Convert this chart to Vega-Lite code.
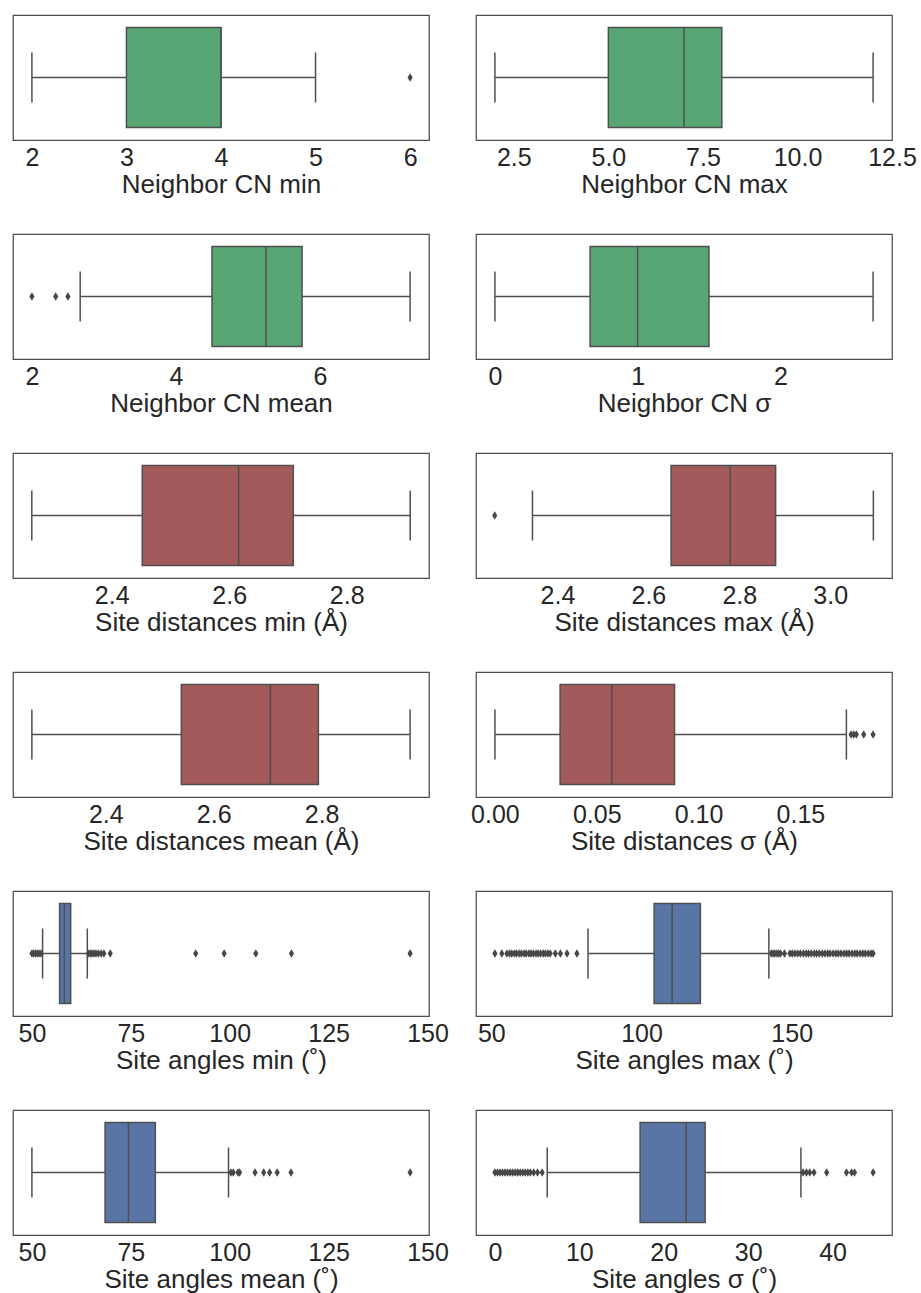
{
"$schema": "https://vega.github.io/schema/vega-lite/v6.json",
"autosize": "pad",
"padding": {"left": 12, "top": 14, "right": 0, "bottom": 0},
"background": "white",
"datasets": {
 "stats": [
  {"p": "a", "lo": 2, "q1": 3, "med": 4, "q3": 4, "hi": 5},
  {"p": "b", "lo": 2, "q1": 5, "med": 7, "q3": 8, "hi": 12},
  {"p": "c", "lo": 2.67, "q1": 4.5, "med": 5.25, "q3": 5.75, "hi": 7.25},
  {"p": "d", "lo": 0, "q1": 0.667, "med": 1.0, "q3": 1.5, "hi": 2.65},
  {"p": "e", "lo": 2.264, "q1": 2.452, "med": 2.616, "q3": 2.709, "hi": 2.908},
  {"p": "f", "lo": 2.345, "q1": 2.650, "med": 2.780, "q3": 2.880, "hi": 3.095},
  {"p": "g", "lo": 2.263, "q1": 2.540, "med": 2.705, "q3": 2.794, "hi": 2.964},
  {"p": "h", "lo": 0, "q1": 0.032, "med": 0.0574, "q3": 0.0882, "hi": 0.1726},
  {"p": "i", "lo": 52.7, "q1": 57.0, "med": 58.2, "q3": 59.8, "hi": 64.0},
  {"p": "j", "lo": 82.2, "q1": 104.2, "med": 110.2, "q3": 119.6, "hi": 142.4},
  {"p": "k", "lo": 50.0, "q1": 68.5, "med": 74.4, "q3": 81.2, "hi": 99.7},
  {"p": "l", "lo": 6.2, "q1": 17.2, "med": 22.65, "q3": 24.9, "hi": 36.25}
 ],
 "out": [
  {"p": "a", "v": 6},
  {"p": "c", "v": 2.0}, {"p": "c", "v": 2.33}, {"p": "c", "v": 2.5},
  {"p": "f", "v": 2.262},
  {"p": "h", "v": 0.1749}, {"p": "h", "v": 0.1762}, {"p": "h", "v": 0.1775}, {"p": "h", "v": 0.1811}, {"p": "h", "v": 0.1857},
  {"p": "i", "v": 50.0}, {"p": "i", "v": 50.4}, {"p": "i", "v": 50.9}, {"p": "i", "v": 51.3}, {"p": "i", "v": 51.8}, {"p": "i", "v": 52.3},
  {"p": "i", "v": 64.3}, {"p": "i", "v": 64.8}, {"p": "i", "v": 65.2}, {"p": "i", "v": 65.7}, {"p": "i", "v": 66.2}, {"p": "i", "v": 66.8}, {"p": "i", "v": 67.5}, {"p": "i", "v": 68.2}, {"p": "i", "v": 69.8},
  {"p": "i", "v": 91.4}, {"p": "i", "v": 98.6}, {"p": "i", "v": 106.6}, {"p": "i", "v": 115.6}, {"p": "i", "v": 145.6},
  {"p": "j", "v": 51.2}, {"p": "j", "v": 53.5}, {"p": "j", "v": 55.2}, {"p": "j", "v": 56.1}, {"p": "j", "v": 56.8}, {"p": "j", "v": 57.7}, {"p": "j", "v": 58.4}, {"p": "j", "v": 59.3}, {"p": "j", "v": 60.0}, {"p": "j", "v": 60.9}, {"p": "j", "v": 61.6}, {"p": "j", "v": 62.5}, {"p": "j", "v": 63.2}, {"p": "j", "v": 64.0}, {"p": "j", "v": 64.9}, {"p": "j", "v": 65.6}, {"p": "j", "v": 66.4}, {"p": "j", "v": 67.3}, {"p": "j", "v": 68.0}, {"p": "j", "v": 68.8}, {"p": "j", "v": 69.6}, {"p": "j", "v": 71.3}, {"p": "j", "v": 73.0}, {"p": "j", "v": 75.2}, {"p": "j", "v": 78.5},
  {"p": "j", "v": 143.2}, {"p": "j", "v": 143.8}, {"p": "j", "v": 144.4}, {"p": "j", "v": 145.1}, {"p": "j", "v": 145.7}, {"p": "j", "v": 146.3}, {"p": "j", "v": 147.6}, {"p": "j", "v": 149.4}, {"p": "j", "v": 150.2}, {"p": "j", "v": 151.1}, {"p": "j", "v": 152.0}, {"p": "j", "v": 152.9}, {"p": "j", "v": 153.9}, {"p": "j", "v": 154.8}, {"p": "j", "v": 155.6}, {"p": "j", "v": 156.5}, {"p": "j", "v": 157.5}, {"p": "j", "v": 158.3}, {"p": "j", "v": 159.2}, {"p": "j", "v": 160.2}, {"p": "j", "v": 161.1}, {"p": "j", "v": 162.0}, {"p": "j", "v": 162.8}, {"p": "j", "v": 163.8}, {"p": "j", "v": 164.7}, {"p": "j", "v": 165.5}, {"p": "j", "v": 166.4}, {"p": "j", "v": 167.4}, {"p": "j", "v": 168.3}, {"p": "j", "v": 169.1}, {"p": "j", "v": 170.1}, {"p": "j", "v": 171.0}, {"p": "j", "v": 171.8}, {"p": "j", "v": 172.8}, {"p": "j", "v": 173.7}, {"p": "j", "v": 174.5}, {"p": "j", "v": 175.5}, {"p": "j", "v": 176.4}, {"p": "j", "v": 177.1},
  {"p": "k", "v": 100.3}, {"p": "k", "v": 100.9}, {"p": "k", "v": 102.1}, {"p": "k", "v": 102.5}, {"p": "k", "v": 106.4}, {"p": "k", "v": 108.6}, {"p": "k", "v": 110.1}, {"p": "k", "v": 112.0}, {"p": "k", "v": 115.5}, {"p": "k", "v": 145.6},
  {"p": "l", "v": 0.0}, {"p": "l", "v": 0.3}, {"p": "l", "v": 0.6}, {"p": "l", "v": 0.9}, {"p": "l", "v": 1.2}, {"p": "l", "v": 1.5}, {"p": "l", "v": 1.8}, {"p": "l", "v": 2.1}, {"p": "l", "v": 2.4}, {"p": "l", "v": 2.7}, {"p": "l", "v": 3.0}, {"p": "l", "v": 3.3}, {"p": "l", "v": 3.6}, {"p": "l", "v": 3.9}, {"p": "l", "v": 4.2}, {"p": "l", "v": 4.6}, {"p": "l", "v": 5.05}, {"p": "l", "v": 5.6},
  {"p": "l", "v": 36.5}, {"p": "l", "v": 36.9}, {"p": "l", "v": 37.3}, {"p": "l", "v": 37.8}, {"p": "l", "v": 39.3}, {"p": "l", "v": 41.65}, {"p": "l", "v": 42.25}, {"p": "l", "v": 42.6}, {"p": "l", "v": 44.8}
 ]
},
"config": {
 "view": {"stroke": "#4d4d4d", "strokeWidth": 1.25},
 "axis": {"labelFont": "Liberation Sans", "labelFontSize": 25, "labelColor": "#262626", "titleFont": "Liberation Sans", "titleFontSize": 26, "titleFontWeight": "normal", "titleColor": "#262626", "ticks": false, "domain": false, "grid": false, "labelPadding": 5, "titlePadding": 1, "labelFlush": false, "labelOverlap": false},
 "rule": {"color": "#4f4f4f", "strokeWidth": 1.5},
 "bar": {"stroke": "#4f4f4f", "strokeWidth": 1.5},
 "point": {"shape": "M0,-1L0.62,0L0,1L-0.62,0Z", "filled": true, "color": "#474747", "size": 70, "opacity": 1}
},
"columns": 2,
"spacing": {"row": 94, "column": 47},
"bounds": "flush",
"concat": [
 {"width": 416, "height": 125, "layer": [
  {"data": {"name": "stats"}, "transform": [{"filter": "datum.p === 'a'"}], "layer": [
   {"mark": "rule", "encoding": {"x": {"field": "lo", "type": "quantitative", "scale": {"domain": [1.8, 6.2], "nice": false, "zero": false}, "axis": {"title": "Neighbor CN min", "values": [2, 3, 4, 5, 6], "format": "d"}}, "x2": {"field": "hi"}, "y": {"datum": 0, "type": "quantitative", "scale": {"domain": [-0.5, 0.5], "nice": false, "zero": false}, "axis": null}}},
   {"mark": "rule", "encoding": {"x": {"field": "lo", "type": "quantitative"}, "y": {"datum": -0.2, "type": "quantitative", "axis": null}, "y2": {"datum": 0.2}}},
   {"mark": "rule", "encoding": {"x": {"field": "hi", "type": "quantitative"}, "y": {"datum": -0.2, "type": "quantitative", "axis": null}, "y2": {"datum": 0.2}}},
   {"mark": {"type": "bar", "fill": "#58a673"}, "encoding": {"x": {"field": "q1", "type": "quantitative"}, "x2": {"field": "q3"}, "y": {"datum": -0.4, "type": "quantitative", "axis": null}, "y2": {"datum": 0.4}}},
   {"mark": "rule", "encoding": {"x": {"field": "med", "type": "quantitative"}, "y": {"datum": -0.4, "type": "quantitative", "axis": null}, "y2": {"datum": 0.4}}}
  ]},
  {"data": {"name": "out"}, "transform": [{"filter": "datum.p === 'a'"}], "mark": "point", "encoding": {"x": {"field": "v", "type": "quantitative"}, "y": {"datum": 0, "type": "quantitative", "axis": null}}}
 ]},
 {"width": 416, "height": 125, "layer": [
  {"data": {"name": "stats"}, "transform": [{"filter": "datum.p === 'b'"}], "layer": [
   {"mark": "rule", "encoding": {"x": {"field": "lo", "type": "quantitative", "scale": {"domain": [1.5, 12.5], "nice": false, "zero": false}, "axis": {"title": "Neighbor CN max", "values": [2.5, 5, 7.5, 10, 12.5], "format": ".1f"}}, "x2": {"field": "hi"}, "y": {"datum": 0, "type": "quantitative", "scale": {"domain": [-0.5, 0.5], "nice": false, "zero": false}, "axis": null}}},
   {"mark": "rule", "encoding": {"x": {"field": "lo", "type": "quantitative"}, "y": {"datum": -0.2, "type": "quantitative", "axis": null}, "y2": {"datum": 0.2}}},
   {"mark": "rule", "encoding": {"x": {"field": "hi", "type": "quantitative"}, "y": {"datum": -0.2, "type": "quantitative", "axis": null}, "y2": {"datum": 0.2}}},
   {"mark": {"type": "bar", "fill": "#58a673"}, "encoding": {"x": {"field": "q1", "type": "quantitative"}, "x2": {"field": "q3"}, "y": {"datum": -0.4, "type": "quantitative", "axis": null}, "y2": {"datum": 0.4}}},
   {"mark": "rule", "encoding": {"x": {"field": "med", "type": "quantitative"}, "y": {"datum": -0.4, "type": "quantitative", "axis": null}, "y2": {"datum": 0.4}}}
  ]},
  {"data": {"name": "out"}, "transform": [{"filter": "datum.p === 'b'"}], "mark": "point", "encoding": {"x": {"field": "v", "type": "quantitative"}, "y": {"datum": 0, "type": "quantitative", "axis": null}}}
 ]},
 {"width": 416, "height": 125, "layer": [
  {"data": {"name": "stats"}, "transform": [{"filter": "datum.p === 'c'"}], "layer": [
   {"mark": "rule", "encoding": {"x": {"field": "lo", "type": "quantitative", "scale": {"domain": [1.7375, 7.5125], "nice": false, "zero": false}, "axis": {"title": "Neighbor CN mean", "values": [2, 4, 6], "format": "d"}}, "x2": {"field": "hi"}, "y": {"datum": 0, "type": "quantitative", "scale": {"domain": [-0.5, 0.5], "nice": false, "zero": false}, "axis": null}}},
   {"mark": "rule", "encoding": {"x": {"field": "lo", "type": "quantitative"}, "y": {"datum": -0.2, "type": "quantitative", "axis": null}, "y2": {"datum": 0.2}}},
   {"mark": "rule", "encoding": {"x": {"field": "hi", "type": "quantitative"}, "y": {"datum": -0.2, "type": "quantitative", "axis": null}, "y2": {"datum": 0.2}}},
   {"mark": {"type": "bar", "fill": "#58a673"}, "encoding": {"x": {"field": "q1", "type": "quantitative"}, "x2": {"field": "q3"}, "y": {"datum": -0.4, "type": "quantitative", "axis": null}, "y2": {"datum": 0.4}}},
   {"mark": "rule", "encoding": {"x": {"field": "med", "type": "quantitative"}, "y": {"datum": -0.4, "type": "quantitative", "axis": null}, "y2": {"datum": 0.4}}}
  ]},
  {"data": {"name": "out"}, "transform": [{"filter": "datum.p === 'c'"}], "mark": "point", "encoding": {"x": {"field": "v", "type": "quantitative"}, "y": {"datum": 0, "type": "quantitative", "axis": null}}}
 ]},
 {"width": 416, "height": 125, "layer": [
  {"data": {"name": "stats"}, "transform": [{"filter": "datum.p === 'd'"}], "layer": [
   {"mark": "rule", "encoding": {"x": {"field": "lo", "type": "quantitative", "scale": {"domain": [-0.1325, 2.7825], "nice": false, "zero": false}, "axis": {"title": "Neighbor CN σ", "values": [0, 1, 2], "format": "d"}}, "x2": {"field": "hi"}, "y": {"datum": 0, "type": "quantitative", "scale": {"domain": [-0.5, 0.5], "nice": false, "zero": false}, "axis": null}}},
   {"mark": "rule", "encoding": {"x": {"field": "lo", "type": "quantitative"}, "y": {"datum": -0.2, "type": "quantitative", "axis": null}, "y2": {"datum": 0.2}}},
   {"mark": "rule", "encoding": {"x": {"field": "hi", "type": "quantitative"}, "y": {"datum": -0.2, "type": "quantitative", "axis": null}, "y2": {"datum": 0.2}}},
   {"mark": {"type": "bar", "fill": "#58a673"}, "encoding": {"x": {"field": "q1", "type": "quantitative"}, "x2": {"field": "q3"}, "y": {"datum": -0.4, "type": "quantitative", "axis": null}, "y2": {"datum": 0.4}}},
   {"mark": "rule", "encoding": {"x": {"field": "med", "type": "quantitative"}, "y": {"datum": -0.4, "type": "quantitative", "axis": null}, "y2": {"datum": 0.4}}}
  ]},
  {"data": {"name": "out"}, "transform": [{"filter": "datum.p === 'd'"}], "mark": "point", "encoding": {"x": {"field": "v", "type": "quantitative"}, "y": {"datum": 0, "type": "quantitative", "axis": null}}}
 ]},
 {"width": 416, "height": 125, "layer": [
  {"data": {"name": "stats"}, "transform": [{"filter": "datum.p === 'e'"}], "layer": [
   {"mark": "rule", "encoding": {"x": {"field": "lo", "type": "quantitative", "scale": {"domain": [2.232, 2.940], "nice": false, "zero": false}, "axis": {"title": "Site distances min (Å)", "values": [2.4, 2.6, 2.8], "format": ".1f"}}, "x2": {"field": "hi"}, "y": {"datum": 0, "type": "quantitative", "scale": {"domain": [-0.5, 0.5], "nice": false, "zero": false}, "axis": null}}},
   {"mark": "rule", "encoding": {"x": {"field": "lo", "type": "quantitative"}, "y": {"datum": -0.2, "type": "quantitative", "axis": null}, "y2": {"datum": 0.2}}},
   {"mark": "rule", "encoding": {"x": {"field": "hi", "type": "quantitative"}, "y": {"datum": -0.2, "type": "quantitative", "axis": null}, "y2": {"datum": 0.2}}},
   {"mark": {"type": "bar", "fill": "#a35a5a"}, "encoding": {"x": {"field": "q1", "type": "quantitative"}, "x2": {"field": "q3"}, "y": {"datum": -0.4, "type": "quantitative", "axis": null}, "y2": {"datum": 0.4}}},
   {"mark": "rule", "encoding": {"x": {"field": "med", "type": "quantitative"}, "y": {"datum": -0.4, "type": "quantitative", "axis": null}, "y2": {"datum": 0.4}}}
  ]},
  {"data": {"name": "out"}, "transform": [{"filter": "datum.p === 'e'"}], "mark": "point", "encoding": {"x": {"field": "v", "type": "quantitative"}, "y": {"datum": 0, "type": "quantitative", "axis": null}}}
 ]},
 {"width": 416, "height": 125, "layer": [
  {"data": {"name": "stats"}, "transform": [{"filter": "datum.p === 'f'"}], "layer": [
   {"mark": "rule", "encoding": {"x": {"field": "lo", "type": "quantitative", "scale": {"domain": [2.2208, 3.136], "nice": false, "zero": false}, "axis": {"title": "Site distances max (Å)", "values": [2.4, 2.6, 2.8, 3.0], "format": ".1f"}}, "x2": {"field": "hi"}, "y": {"datum": 0, "type": "quantitative", "scale": {"domain": [-0.5, 0.5], "nice": false, "zero": false}, "axis": null}}},
   {"mark": "rule", "encoding": {"x": {"field": "lo", "type": "quantitative"}, "y": {"datum": -0.2, "type": "quantitative", "axis": null}, "y2": {"datum": 0.2}}},
   {"mark": "rule", "encoding": {"x": {"field": "hi", "type": "quantitative"}, "y": {"datum": -0.2, "type": "quantitative", "axis": null}, "y2": {"datum": 0.2}}},
   {"mark": {"type": "bar", "fill": "#a35a5a"}, "encoding": {"x": {"field": "q1", "type": "quantitative"}, "x2": {"field": "q3"}, "y": {"datum": -0.4, "type": "quantitative", "axis": null}, "y2": {"datum": 0.4}}},
   {"mark": "rule", "encoding": {"x": {"field": "med", "type": "quantitative"}, "y": {"datum": -0.4, "type": "quantitative", "axis": null}, "y2": {"datum": 0.4}}}
  ]},
  {"data": {"name": "out"}, "transform": [{"filter": "datum.p === 'f'"}], "mark": "point", "encoding": {"x": {"field": "v", "type": "quantitative"}, "y": {"datum": 0, "type": "quantitative", "axis": null}}}
 ]},
 {"width": 416, "height": 125, "layer": [
  {"data": {"name": "stats"}, "transform": [{"filter": "datum.p === 'g'"}], "layer": [
   {"mark": "rule", "encoding": {"x": {"field": "lo", "type": "quantitative", "scale": {"domain": [2.228, 2.999], "nice": false, "zero": false}, "axis": {"title": "Site distances mean (Å)", "values": [2.4, 2.6, 2.8], "format": ".1f"}}, "x2": {"field": "hi"}, "y": {"datum": 0, "type": "quantitative", "scale": {"domain": [-0.5, 0.5], "nice": false, "zero": false}, "axis": null}}},
   {"mark": "rule", "encoding": {"x": {"field": "lo", "type": "quantitative"}, "y": {"datum": -0.2, "type": "quantitative", "axis": null}, "y2": {"datum": 0.2}}},
   {"mark": "rule", "encoding": {"x": {"field": "hi", "type": "quantitative"}, "y": {"datum": -0.2, "type": "quantitative", "axis": null}, "y2": {"datum": 0.2}}},
   {"mark": {"type": "bar", "fill": "#a35a5a"}, "encoding": {"x": {"field": "q1", "type": "quantitative"}, "x2": {"field": "q3"}, "y": {"datum": -0.4, "type": "quantitative", "axis": null}, "y2": {"datum": 0.4}}},
   {"mark": "rule", "encoding": {"x": {"field": "med", "type": "quantitative"}, "y": {"datum": -0.4, "type": "quantitative", "axis": null}, "y2": {"datum": 0.4}}}
  ]},
  {"data": {"name": "out"}, "transform": [{"filter": "datum.p === 'g'"}], "mark": "point", "encoding": {"x": {"field": "v", "type": "quantitative"}, "y": {"datum": 0, "type": "quantitative", "axis": null}}}
 ]},
 {"width": 416, "height": 125, "layer": [
  {"data": {"name": "stats"}, "transform": [{"filter": "datum.p === 'h'"}], "layer": [
   {"mark": "rule", "encoding": {"x": {"field": "lo", "type": "quantitative", "scale": {"domain": [-0.0093, 0.195], "nice": false, "zero": false}, "axis": {"title": "Site distances σ (Å)", "values": [0, 0.05, 0.1, 0.15], "format": ".2f"}}, "x2": {"field": "hi"}, "y": {"datum": 0, "type": "quantitative", "scale": {"domain": [-0.5, 0.5], "nice": false, "zero": false}, "axis": null}}},
   {"mark": "rule", "encoding": {"x": {"field": "lo", "type": "quantitative"}, "y": {"datum": -0.2, "type": "quantitative", "axis": null}, "y2": {"datum": 0.2}}},
   {"mark": "rule", "encoding": {"x": {"field": "hi", "type": "quantitative"}, "y": {"datum": -0.2, "type": "quantitative", "axis": null}, "y2": {"datum": 0.2}}},
   {"mark": {"type": "bar", "fill": "#a35a5a"}, "encoding": {"x": {"field": "q1", "type": "quantitative"}, "x2": {"field": "q3"}, "y": {"datum": -0.4, "type": "quantitative", "axis": null}, "y2": {"datum": 0.4}}},
   {"mark": "rule", "encoding": {"x": {"field": "med", "type": "quantitative"}, "y": {"datum": -0.4, "type": "quantitative", "axis": null}, "y2": {"datum": 0.4}}}
  ]},
  {"data": {"name": "out"}, "transform": [{"filter": "datum.p === 'h'"}], "mark": "point", "encoding": {"x": {"field": "v", "type": "quantitative"}, "y": {"datum": 0, "type": "quantitative", "axis": null}}}
 ]},
 {"width": 416, "height": 125, "layer": [
  {"data": {"name": "stats"}, "transform": [{"filter": "datum.p === 'i'"}], "layer": [
   {"mark": "rule", "encoding": {"x": {"field": "lo", "type": "quantitative", "scale": {"domain": [45.22, 150.38], "nice": false, "zero": false}, "axis": {"title": "Site angles min (˚)", "values": [50, 75, 100, 125, 150], "format": "d"}}, "x2": {"field": "hi"}, "y": {"datum": 0, "type": "quantitative", "scale": {"domain": [-0.5, 0.5], "nice": false, "zero": false}, "axis": null}}},
   {"mark": "rule", "encoding": {"x": {"field": "lo", "type": "quantitative"}, "y": {"datum": -0.2, "type": "quantitative", "axis": null}, "y2": {"datum": 0.2}}},
   {"mark": "rule", "encoding": {"x": {"field": "hi", "type": "quantitative"}, "y": {"datum": -0.2, "type": "quantitative", "axis": null}, "y2": {"datum": 0.2}}},
   {"mark": {"type": "bar", "fill": "#5875a5"}, "encoding": {"x": {"field": "q1", "type": "quantitative"}, "x2": {"field": "q3"}, "y": {"datum": -0.4, "type": "quantitative", "axis": null}, "y2": {"datum": 0.4}}},
   {"mark": "rule", "encoding": {"x": {"field": "med", "type": "quantitative"}, "y": {"datum": -0.4, "type": "quantitative", "axis": null}, "y2": {"datum": 0.4}}}
  ]},
  {"data": {"name": "out"}, "transform": [{"filter": "datum.p === 'i'"}], "mark": "point", "encoding": {"x": {"field": "v", "type": "quantitative"}, "y": {"datum": 0, "type": "quantitative", "axis": null}}}
 ]},
 {"width": 416, "height": 125, "layer": [
  {"data": {"name": "stats"}, "transform": [{"filter": "datum.p === 'j'"}], "layer": [
   {"mark": "rule", "encoding": {"x": {"field": "lo", "type": "quantitative", "scale": {"domain": [44.9, 183.4], "nice": false, "zero": false}, "axis": {"title": "Site angles max (˚)", "values": [50, 100, 150], "format": "d"}}, "x2": {"field": "hi"}, "y": {"datum": 0, "type": "quantitative", "scale": {"domain": [-0.5, 0.5], "nice": false, "zero": false}, "axis": null}}},
   {"mark": "rule", "encoding": {"x": {"field": "lo", "type": "quantitative"}, "y": {"datum": -0.2, "type": "quantitative", "axis": null}, "y2": {"datum": 0.2}}},
   {"mark": "rule", "encoding": {"x": {"field": "hi", "type": "quantitative"}, "y": {"datum": -0.2, "type": "quantitative", "axis": null}, "y2": {"datum": 0.2}}},
   {"mark": {"type": "bar", "fill": "#5875a5"}, "encoding": {"x": {"field": "q1", "type": "quantitative"}, "x2": {"field": "q3"}, "y": {"datum": -0.4, "type": "quantitative", "axis": null}, "y2": {"datum": 0.4}}},
   {"mark": "rule", "encoding": {"x": {"field": "med", "type": "quantitative"}, "y": {"datum": -0.4, "type": "quantitative", "axis": null}, "y2": {"datum": 0.4}}}
  ]},
  {"data": {"name": "out"}, "transform": [{"filter": "datum.p === 'j'"}], "mark": "point", "encoding": {"x": {"field": "v", "type": "quantitative"}, "y": {"datum": 0, "type": "quantitative", "axis": null}}}
 ]},
 {"width": 416, "height": 125, "layer": [
  {"data": {"name": "stats"}, "transform": [{"filter": "datum.p === 'k'"}], "layer": [
   {"mark": "rule", "encoding": {"x": {"field": "lo", "type": "quantitative", "scale": {"domain": [45.22, 150.38], "nice": false, "zero": false}, "axis": {"title": "Site angles mean (˚)", "values": [50, 75, 100, 125, 150], "format": "d"}}, "x2": {"field": "hi"}, "y": {"datum": 0, "type": "quantitative", "scale": {"domain": [-0.5, 0.5], "nice": false, "zero": false}, "axis": null}}},
   {"mark": "rule", "encoding": {"x": {"field": "lo", "type": "quantitative"}, "y": {"datum": -0.2, "type": "quantitative", "axis": null}, "y2": {"datum": 0.2}}},
   {"mark": "rule", "encoding": {"x": {"field": "hi", "type": "quantitative"}, "y": {"datum": -0.2, "type": "quantitative", "axis": null}, "y2": {"datum": 0.2}}},
   {"mark": {"type": "bar", "fill": "#5875a5"}, "encoding": {"x": {"field": "q1", "type": "quantitative"}, "x2": {"field": "q3"}, "y": {"datum": -0.4, "type": "quantitative", "axis": null}, "y2": {"datum": 0.4}}},
   {"mark": "rule", "encoding": {"x": {"field": "med", "type": "quantitative"}, "y": {"datum": -0.4, "type": "quantitative", "axis": null}, "y2": {"datum": 0.4}}}
  ]},
  {"data": {"name": "out"}, "transform": [{"filter": "datum.p === 'k'"}], "mark": "point", "encoding": {"x": {"field": "v", "type": "quantitative"}, "y": {"datum": 0, "type": "quantitative", "axis": null}}}
 ]},
 {"width": 416, "height": 125, "layer": [
  {"data": {"name": "stats"}, "transform": [{"filter": "datum.p === 'l'"}], "layer": [
   {"mark": "rule", "encoding": {"x": {"field": "lo", "type": "quantitative", "scale": {"domain": [-2.24, 47.04], "nice": false, "zero": false}, "axis": {"title": "Site angles σ (˚)", "values": [0, 10, 20, 30, 40], "format": "d"}}, "x2": {"field": "hi"}, "y": {"datum": 0, "type": "quantitative", "scale": {"domain": [-0.5, 0.5], "nice": false, "zero": false}, "axis": null}}},
   {"mark": "rule", "encoding": {"x": {"field": "lo", "type": "quantitative"}, "y": {"datum": -0.2, "type": "quantitative", "axis": null}, "y2": {"datum": 0.2}}},
   {"mark": "rule", "encoding": {"x": {"field": "hi", "type": "quantitative"}, "y": {"datum": -0.2, "type": "quantitative", "axis": null}, "y2": {"datum": 0.2}}},
   {"mark": {"type": "bar", "fill": "#5875a5"}, "encoding": {"x": {"field": "q1", "type": "quantitative"}, "x2": {"field": "q3"}, "y": {"datum": -0.4, "type": "quantitative", "axis": null}, "y2": {"datum": 0.4}}},
   {"mark": "rule", "encoding": {"x": {"field": "med", "type": "quantitative"}, "y": {"datum": -0.4, "type": "quantitative", "axis": null}, "y2": {"datum": 0.4}}}
  ]},
  {"data": {"name": "out"}, "transform": [{"filter": "datum.p === 'l'"}], "mark": "point", "encoding": {"x": {"field": "v", "type": "quantitative"}, "y": {"datum": 0, "type": "quantitative", "axis": null}}}
 ]}
]
}
